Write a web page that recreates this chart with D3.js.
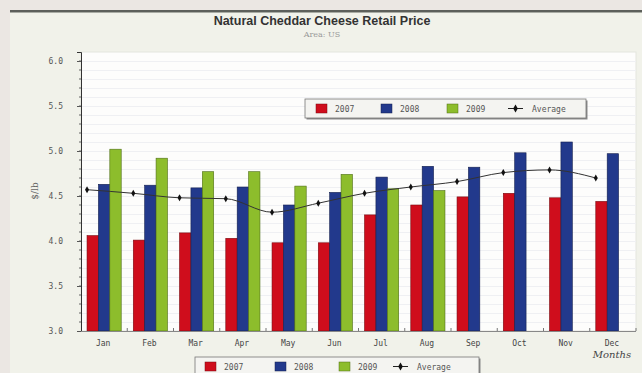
<!DOCTYPE html>
<html>
<head>
<meta charset="utf-8">
<script src="https://cdn.jsdelivr.net/npm/d3@7"></script>
<style>
  html, body { margin: 0; padding: 0; background: #ebe7e3; }
  svg { display: block; }
</style>
</head>
<body>
<svg id="chart" width="642" height="373"></svg>
<script>
// Monthly retail price of natural cheddar cheese, US, $/lb
const months = ["Jan", "Feb", "Mar", "Apr", "May", "Jun", "Jul", "Aug", "Sep", "Oct", "Nov", "Dec"];
const seriesNames = ["2007", "2008", "2009"];
const values2007 = [4.06, 4.01, 4.09, 4.03, 3.98, 3.98, 4.29, 4.40, 4.49, 4.53, 4.48, 4.44];
const values2008 = [4.63, 4.62, 4.59, 4.60, 4.40, 4.54, 4.71, 4.83, 4.82, 4.98, 5.10, 4.97];
const values2009 = [5.02, 4.92, 4.77, 4.77, 4.61, 4.74, 4.58, 4.56, null, null, null, null];
const averageValues = [4.57, 4.53, 4.48, 4.47, 4.32, 4.42, 4.53, 4.60, 4.66, 4.76, 4.79, 4.70];
const yTicks = [3.0, 3.5, 4.0, 4.5, 5.0, 5.5, 6.0];
const colors = ["#cf0d1c", "#22398c", "#8dbd2c"];
const edge = ["#7a0a10", "#14204f", "#4f6e16"];

const svg = d3.select("#chart");

// page panel
svg.append("rect").attr("x", 10).attr("y", 10).attr("width", 632).attr("height", 363).attr("fill", "#f1f2ea");
svg.append("rect").attr("x", 10).attr("y", 10).attr("width", 632).attr("height", 2).attr("fill", "#5d605b");
svg.append("rect").attr("x", 10).attr("y", 12).attr("width", 632).attr("height", 1).attr("fill", "#a9aca4");

const plot = { left: 81, right: 636, top: 52, bottom: 331 };

const x = d3.scaleBand().domain(months).range([plot.left, plot.right]).paddingInner(0).paddingOuter(0);
const inner = d3.scaleBand().domain(seriesNames).range([0, x.bandwidth()]).paddingOuter(0.53).paddingInner(0);
const y = d3.scaleLinear().domain([3, 6.1]).range([plot.bottom, plot.top]);

// plot background
svg.append("rect").attr("x", plot.left).attr("y", plot.top)
  .attr("width", plot.right - plot.left).attr("height", plot.bottom - plot.top)
  .attr("fill", "#fdfdfc").attr("stroke", "#e4e5de");

// faint grid every 0.1
const gridVals = d3.range(31, 61).map(v => v / 10);
svg.append("g").selectAll("line").data(gridVals).join("line")
  .attr("x1", plot.left).attr("x2", plot.right)
  .attr("y1", d => Math.round(y(d)) + 0.5).attr("y2", d => Math.round(y(d)) + 0.5)
  .attr("stroke", "#eff0f3").attr("stroke-width", 1);

// bars
const barData = [];
months.forEach((m, i) => {
  [values2007, values2008, values2009].forEach((arr, s) => {
    if (arr[i] != null) barData.push({ m, s, v: arr[i] });
  });
});
svg.append("g").selectAll("rect").data(barData).join("rect")
  .attr("x", d => x(d.m) + inner(seriesNames[d.s]))
  .attr("y", d => y(d.v))
  .attr("width", inner.bandwidth())
  .attr("height", d => y(3) - y(d.v))
  .attr("fill", d => colors[d.s])
  .attr("stroke", d => edge[d.s]).attr("stroke-width", 0.6);

// average line, anchored at the start of each group
const avgX = m => x(m) + inner(seriesNames[0]);
svg.append("path")
  .datum(averageValues)
  .attr("fill", "none").attr("stroke", "#333").attr("stroke-width", 1)
  .attr("d", d3.line().x((d, i) => avgX(months[i])).y(d => y(d)).curve(d3.curveMonotoneX));
svg.append("g").selectAll("path").data(averageValues).join("path")
  .attr("transform", (d, i) => `translate(${avgX(months[i])},${y(d)})`)
  .attr("d", d3.symbol(d3.symbolDiamond, 14))
  .attr("fill", "#111");

// y axis
const yAxis = d3.axisLeft(y).tickValues(yTicks).tickFormat(d3.format(".1f")).tickSize(4).tickPadding(14);
const gy = svg.append("g").attr("transform", `translate(${plot.left},0)`).call(yAxis);
gy.select(".domain").attr("stroke", "#333");
gy.selectAll(".tick line").attr("stroke", "#555");
gy.selectAll("text").attr("font-family", "DejaVu Sans Mono, monospace").attr("font-size", 8).attr("fill", "#555");
// minor ticks
svg.append("g").selectAll("line").data(d3.range(31, 61).map(v => v / 10)).join("line")
  .attr("x1", plot.left - 2).attr("x2", plot.left)
  .attr("y1", d => y(d)).attr("y2", d => y(d))
  .attr("stroke", "#666");

// x axis
svg.append("line").attr("x1", plot.left).attr("x2", plot.right)
  .attr("y1", plot.bottom + 0.5).attr("y2", plot.bottom + 0.5).attr("stroke", "#888");
svg.append("g").selectAll("line").data(months.slice(1).concat(["end"])).join("line")
  .attr("x1", (d, i) => plot.left + (i + 1) * x.bandwidth())
  .attr("x2", (d, i) => plot.left + (i + 1) * x.bandwidth())
  .attr("y1", plot.bottom - 3).attr("y2", plot.bottom)
  .attr("stroke", "#777");
svg.append("g").selectAll("text").data(months).join("text")
  .attr("x", d => x(d) + x.bandwidth() / 2 - 1)
  .attr("y", 346)
  .attr("text-anchor", "middle")
  .attr("font-family", "DejaVu Sans Mono, monospace").attr("font-size", 8).attr("fill", "#444")
  .text(d => d);

// axis titles
svg.append("text").attr("x", 612).attr("y", 358).attr("text-anchor", "middle")
  .attr("font-family", "DejaVu Serif, serif").attr("font-style", "italic").attr("font-size", 10).attr("fill", "#444")
  .text("Months");
svg.append("text").attr("transform", "translate(38,191) rotate(-90)").attr("text-anchor", "middle")
  .attr("font-family", "DejaVu Serif, serif").attr("font-size", 9).attr("fill", "#666")
  .text("$/lb");

// titles
svg.append("text").attr("x", 322).attr("y", 25).attr("text-anchor", "middle")
  .attr("font-family", "Liberation Sans, Arial, sans-serif").attr("font-weight", "bold").attr("font-size", 12.5).attr("fill", "#333")
  .text("Natural Cheddar Cheese Retail Price");
svg.append("text").attr("x", 322).attr("y", 37).attr("text-anchor", "middle")
  .attr("font-family", "DejaVu Serif, serif").attr("font-size", 8).attr("fill", "#999")
  .text("Area: US");

// legends
function legend(x0, y0, w, h, offsets) {
  const g = svg.append("g").attr("transform", `translate(${x0},${y0})`);
  g.append("rect").attr("x", 1.5).attr("y", 1.5).attr("width", w).attr("height", h).attr("fill", "#8a8a8a");
  g.append("rect").attr("x", 0).attr("y", 0).attr("width", w).attr("height", h)
    .attr("fill", "#f4f4f1").attr("stroke", "#777").attr("stroke-width", 0.8);
  const cy = h / 2;
  seriesNames.forEach((n, i) => {
    g.append("rect").attr("x", offsets[i]).attr("y", cy - 4.5).attr("width", 11).attr("height", 9)
      .attr("fill", colors[i]).attr("stroke", edge[i]).attr("stroke-width", 0.5);
    g.append("text").attr("x", offsets[i] + 19).attr("y", cy + 3)
      .attr("font-family", "DejaVu Sans Mono, monospace").attr("font-size", 8).attr("fill", "#555").text(n);
  });
  const lx = offsets[3];
  g.append("line").attr("x1", lx).attr("x2", lx + 15).attr("y1", cy).attr("y2", cy).attr("stroke", "#222");
  g.append("path").attr("transform", `translate(${lx + 7.5},${cy})`).attr("d", d3.symbol(d3.symbolDiamond, 18)).attr("fill", "#111");
  g.append("text").attr("x", lx + 24).attr("y", cy + 3)
    .attr("font-family", "DejaVu Sans Mono, monospace").attr("font-size", 8).attr("fill", "#555").text("Average");
}
legend(305, 99, 281, 19, [11, 76, 142, 203]);
legend(195, 357, 284, 19, [10, 80, 144, 198]);
</script>
</body>
</html>
